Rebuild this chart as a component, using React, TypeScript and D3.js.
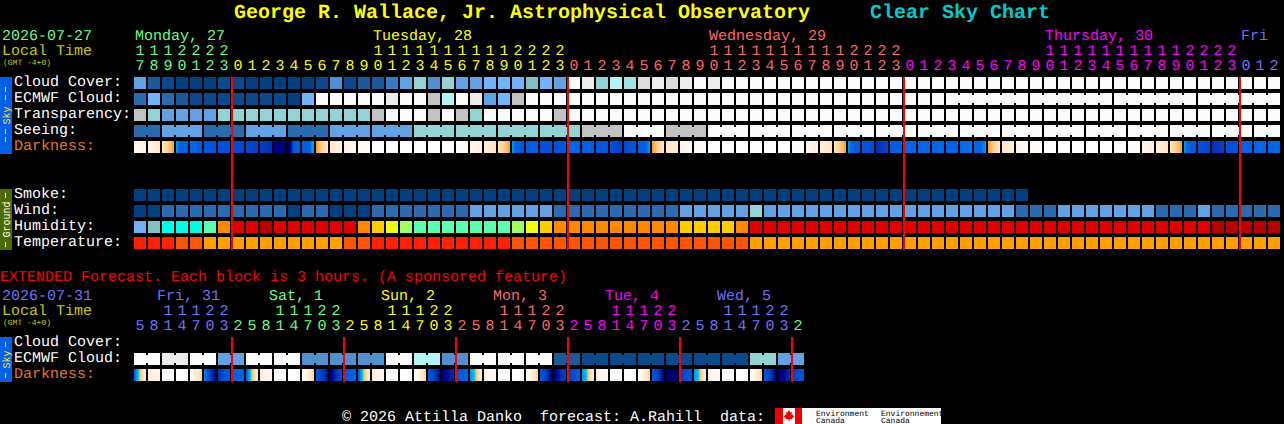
import React from "react";
import * as d3 from "d3";

// ---- Sky condition classes (0 = best/dark blue ... 15 = worst/white)
const cloudCover = [6,2,1,0,0,0,1,1,0,0,0,0,0,1,5,1,2,2,4,6,9,5,9,6,6,7,7,7,8,7,6,15,14,9,11,10,13,14,13,14,15,14,15,15,15,15,15,15,15,15,15,15,15,15,15,15,15,15,15,15,15,15,15,15,15,15,15,15,15,15,15,15,15,15,15,15,15,15,15,15,15,15];
const ecmwfCloud = [3,7,3,2,1,1,1,1,1,1,1,0,7,15,15,15,15,15,14,15,15,12,11,15,14,6,7,12,15,15,15,15,15,15,15,15,15,15,15,15,15,15,15,15,15,15,15,15,15,15,15,15,15,15,15,15,15,15,15,15,15,15,15,15,15,15,15,15,15,15,15,15,15,15,15,15,15,15,15,15,15,15];
const transparency = [12,9,6,6,6,6,9,9,9,9,9,9,9,9,9,9,9,12,15,15,15,12,15,12,9,15,15,15,15,15,12,15,15,15,15,15,15,15,15,15,15,15,15,15,15,15,15,15,15,15,15,15,15,15,15,15,15,15,15,15,15,15,15,15,15,15,15,15,15,15,15,15,15,15,15,15,15,15,15,15,15,15];
const seeing = [3,3,6,6,6,3,3,3,6,6,6,3,3,3,6,6,6,6,6,6,9,9,9,9,9,9,9,9,9,9,9,9,12,12,12,15,15,15,12,12,12,15,15,15,15,15,15,15,15,15,15,15,15,15,15,15,15,15,15,15,15,15,15,15,15,15,15,15,15,15,15,15,15,15,15,15,15,15,15,15,15,15];
const smoke = [0,0,0,0,0,0,0,0,0,0,0,0,0,0,0,0,0,0,0,0,0,0,0,0,0,0,0,0,0,0,0,0,0,0,0,0,0,0,0,0,0,0,0,0,0,0,0,0,0,0,0,0,0,0,0,0,0,0,0,0,0,0,0,0];
const wind = [0,0,3,3,3,3,3,3,3,3,3,0,3,3,0,0,0,3,3,3,3,3,3,3,6,6,6,6,6,6,3,3,3,3,3,3,3,3,3,6,6,6,6,6,9,6,6,6,6,6,6,6,6,6,6,6,6,6,6,6,6,6,6,3,3,3,6,6,6,6,6,6,6,3,3,3,6,3,3,3,3,3];
const humidity = [0,1,2,2,2,3,7,8,8,9,8,8,8,8,8,8,7,6,5,4,3,3,3,3,3,3,3,4,5,6,7,7,7,7,7,7,7,7,7,6,6,6,6,7,8,8,8,8,8,8,8,8,8,8,8,8,8,8,8,8,8,8,8,8,8,8,8,8,8,8,8,8,8,8,8,8,8,9,9,9,9,9];
const temperature = [0,0,0,1,1,2,2,2,2,2,2,2,2,2,2,1,1,0,0,0,0,0,0,0,0,0,0,1,1,1,1,1,1,1,1,1,1,1,1,1,1,1,1,1,2,2,2,2,2,2,2,2,2,2,2,2,2,2,2,2,2,2,2,2,2,2,2,2,2,2,2,2,2,2,2,2,2,2,2,2,2,2];
const extEcmwf = [15,15,14,14,15,15,6,6,15,15,15,15,5,5,5,5,5,5,15,15,11,11,5,5,15,15,15,15,15,15,2,2,1,1,1,1,1,1,1,1,1,1,1,1,9,9,6,6];

// ---- Darkness: value profile across each block (low = sunlight, high = dark sky)
const darknessMain: number[][] = [
  [-4.5,-4],[-4,-3],[-3,-2.5,-2],[-1.7,-1,0,0,0,0],[-0.5,0,0.5],[0.5,1],[1,1],[1,1.5],[1.5,2],[2,3],[4,5],[5,4,0.5,0,0],[0,0,0,0,-1.5,-1.7],
  [-2,-2.5,-3],[-3,-4],[-4,-4.5],[-4.5,-5],[-5],[-5],[-5],[-5],[-5],[-5],
  [-4.8,-4.5],[-4.2,-3.8],[-3.5,-2.9],[-2.9,-2.5,-2],[-1.7,-1,0.3,0.3,0.3,0.3],[0.3,0],[1,1],[1,0.5],[-0.5,-0.5],[0,0],[0.5,0.5],[0.8,2],[1.5,0.5],[0,0,0,0,-1.2,-1.7],
  [-2,-2.5,-3],[-3,-3.5],[-4,-4.3],[-4.5,-4.8],[-5],[-5],[-5],[-5],[-5],[-5],
  [-4.8,-4.5],[-4.2,-3.8],[-3.5,-2.9],[-2.9,-2.5,-2],[-1.7,-1,0.2,0.2,0.2,0.2],[0.5,1.2],[3,1.5],[0,0],[-0.5,-0.5],[-0.5],[-0.5],[-0.2],[-0.5,-1.2],[-0.5,-0.5,-0.5,-0.8,-1.2,-1.7],
  [-2,-2.5,-3],[-3,-3.6],[-4,-4.3],[-4.5,-4.8],[-5],[-5],[-5],[-5],[-5],[-5],
  [-4.8,-4.5],[-4.2,-3.8],[-3.5,-2.9],[-2.9,-2.5,-2],[-1.7,-1,0.3,0.3,0.3,0.3],[0.8,1.5],[3,1.8],[1,0.8],[-0.3],[-0.4],[-0.4],
];
const darknessExt: number[][] = [
  [0,-1.5,-2,-2.5,-3,-3.5],[-3.5,-4],[-5],[-5],[-4.5,-3.5,-2.5],[-1.5,0.5,3,4],[3,1,0.5],[0,-0.5],
  [0,-1.5,-2,-2.5,-3,-3.5],[-3.5,-4.5],[-5],[-5],[-4.5,-3.5,-2.5],[0.5,2,4],[4.5,3,1],[0.5,-0.3],
  [0,-1.5,-2,-2.5,-3,-3.5],[-3.5,-4.5],[-5],[-5],[-4.5,-3.5,-2.5],[0.5,2,4],[4.5,3],[1,-0.5],
  [-1.5,-1.7,-2,-2.5,-3,-3.5],[-4,-4.5],[-5],[-5],[-4.5,-3.5,-2.4],[0.5,2,4.5],[4.5,2],[2,0],
  [-1.5,-1.7,-2,-2.5,-3,-3.5],[-4,-4.5],[-5],[-5],[-4.5,-3.5,-2.4],[0.5,2,4.5],[5,4.5],[2,0.5],
  [-1.5,-1.7,-2,-2.5,-3,-3.5],[-4,-4.5],[-5],[-5],[-4.5,-3.5,-2.4],[0.5,2,4.5],[5,3],[2,0.5],
];

// ---- Merged-block runs (block counts of joined forecasts)
const seeingRuns = [2,3,3,3,3,3,3,3,3,3,3,3,3,3,3,3,3,3,3,3,3,3,3,3,3,3,3,2];
const ecmwfRuns = [1,1,1,1,1,1,1,1,1,1,1,1,1,1,1,1,1,1,1,1,1,1,1,1,1,1,1,1,1,1,1,1,1,1,1,1,1,1,1,1,1,1,1,1,1,1,1,1,1,1,1,1,1,1,1,1,1,1,6,6,6,6];
const extRuns = [2,2,2,2,2,2,2,2,2,2,2,2,2,2,2,2,2,2,2,2,2,2,2,2];

// ---- Time axes
const hoursMain = [17,18,19,20,21,22,23,0,1,2,3,4,5,6,7,8,9,10,11,12,13,14,15,16,17,18,19,20,21,22,23,0,1,2,3,4,5,6,7,8,9,10,11,12,13,14,15,16,17,18,19,20,21,22,23,0,1,2,3,4,5,6,7,8,9,10,11,12,13,14,15,16,17,18,19,20,21,22,23,0,1,2];
const dayOfMain = [0,0,0,0,0,0,0,1,1,1,1,1,1,1,1,1,1,1,1,1,1,1,1,1,1,1,1,1,1,1,1,2,2,2,2,2,2,2,2,2,2,2,2,2,2,2,2,2,2,2,2,2,2,2,2,3,3,3,3,3,3,3,3,3,3,3,3,3,3,3,3,3,3,3,3,3,3,3,3,4,4,4];
const daysMain = ["Monday, 27","Tuesday, 28","Wednesday, 29","Thursday, 30","Fri"];
const dayLabelColsMain = [0,17,41,65,79];
const hoursExt = [5,8,11,14,17,20,23,2,5,8,11,14,17,20,23,2,5,8,11,14,17,20,23,2,5,8,11,14,17,20,23,2,5,8,11,14,17,20,23,2,5,8,11,14,17,20,23,2];
const dayOfExt = [4,4,4,4,4,4,4,0,0,0,0,0,0,0,0,1,1,1,1,1,1,1,1,2,2,2,2,2,2,2,2,3,3,3,3,3,3,3,3,4,4,4,4,4,4,4,4,0];
const daysExt = ["Fri, 31","Sat, 1","Sun, 2","Mon, 3","Tue, 4","Wed, 5"];
const dayLabelColsExt = [1.65,9.65,17.65,25.65,33.65,41.65];
const dayColorOfExt = [4,0,1,2,3,4];
const midnightColsMain = [7,31,55,79];
const midnightColsExt = [7,15,23,31,39,47];
const rowLabelsSky = ["Cloud Cover:","ECMWF Cloud:","Transparency:","Seeing:","Darkness:"];
const rowLabelsGround = ["Smoke:","Wind:","Humidity:","Temperature:"];
const rowLabelsExt = ["Cloud Cover:","ECMWF Cloud:","Darkness:"];

const skyPalette = ["#003f80","#0a4a8c","#1a5a9a","#2a6aae","#3a7ac0","#5090d0","#60a2e4","#70b4fc","#80c0c0","#92d4d4","#a4e2e2","#b2f4f4","#c2c2c2","#dcdcdc","#ececec","#fbfbfb"];
const humidityPalette = ["#70b0f0","#84c0c0","#00ffe8","#5cffb0","#a0ff60","#eeff10","#ffcc00","#ff8800","#e00000","#b80000"];
const temperaturePalette = ["#ff2000","#ff5500","#ffa000"];
const dayPalette = ["#66ff88","#ffff00","#ff6868","#ff00ff","#7070ff"];

const sky = d3.scaleOrdinal<number, string>().domain(d3.range(16)).range(skyPalette);
const hum = d3.scaleOrdinal<number, string>().domain(d3.range(10)).range(humidityPalette);
const tmp = d3.scaleOrdinal<number, string>().domain(d3.range(3)).range(temperaturePalette);
const darkColor = d3.scaleLinear<string>()
  .domain([-5,-4,-3,-2.5,-2,-1.99,-1.5,-1,0,1,2,3,4,5])
  .range(["#ffffff","#fff4e8","#ffe6c6","#ffd090","#f8a020","#00d0e0","#0090f0","#0070ec","#0060e0","#0050d8","#0040c0","#0030b0","#000090","#000060"])
  .clamp(true);

const x = d3.scaleLinear().domain([0, 82]).range([134, 1282]);
const CELL = 12;
const ROW = 16;
const FONT = "'Liberation Mono', monospace";

function Row({ values, color, top, runs }: { values: number[]; color: (v: number) => string; top: number; runs?: number[] }) {
  const joins: number[] = [];
  if (runs) {
    let at = 0;
    runs.forEach((n) => {
      d3.range(n - 1).forEach((k) => joins.push(at + k));
      at += n;
    });
  }
  return (
    <g shapeRendering="crispEdges">
      {values.map((v, i) => (
        <rect key={i} x={x(i)} y={top} width={CELL} height={CELL} fill={color(v)} />
      ))}
      {joins.filter((i) => i < values.length).map((i) => (
        <rect key={i} x={x(i) + CELL} y={top + 2} width={2} height={CELL - 4} fill={color(values[i])} />
      ))}
    </g>
  );
}

function DarkRow({ profiles, top }: { profiles: number[][]; top: number }) {
  return (
    <g shapeRendering="crispEdges">
      {profiles.map((p, i) => {
        const s = d3.scaleLinear<number>()
          .domain(p.length > 1 ? p.map((_, k) => (k / (p.length - 1)) * CELL) : [0, CELL])
          .range(p.length > 1 ? p : [p[0], p[0]]);
        return d3.range(CELL).map((c) => (
          <rect key={`${i}-${c}`} x={x(i) + c} y={top} width={1} height={CELL} fill={darkColor(s(c + 0.5))} />
        ));
      })}
    </g>
  );
}

function Txt({ x: tx, y, fill = "#fff", size = 15, anchor, weight, children }: any) {
  return (
    <text x={tx} y={y} fill={fill} fontSize={size} fontFamily={FONT} textAnchor={anchor} fontWeight={weight} textRendering="geometricPrecision" xmlSpace="preserve" style={{ whiteSpace: "pre" }}>
      {children}
    </text>
  );
}

function Hours({ hours, dayOf, tensY, unitsY }: { hours: number[]; dayOf: number[]; tensY: number; unitsY: number }) {
  return (
    <g>
      {hours.map((h, i) => (
        <React.Fragment key={i}>
          {h >= 10 && <Txt x={x(i) + CELL / 2} y={tensY} fill={dayPalette[dayOf[i]]} anchor="middle">{String(Math.floor(h / 10))}</Txt>}
          <Txt x={x(i) + CELL / 2} y={unitsY} fill={dayPalette[dayOf[i]]} anchor="middle">{String(h % 10)}</Txt>
        </React.Fragment>
      ))}
    </g>
  );
}

function SideBar({ top, height, fill, textFill, label, dashLen }: any) {
  const cy = top + height / 2;
  const half = label.length * 3 + 4;
  return (
    <g>
      <rect x={0} y={top} width={12} height={height} fill={fill} shapeRendering="crispEdges" />
      <text transform={`translate(9.5,${cy}) rotate(-90)`} fill={textFill} fontSize={10} fontFamily={FONT} textAnchor="middle">{label}</text>
      <g stroke={textFill} strokeWidth={1} strokeDasharray="5 3" shapeRendering="crispEdges">
        <line x1={5.5} x2={5.5} y1={cy - half - dashLen} y2={cy - half} />
        <line x1={5.5} x2={5.5} y1={cy + half} y2={cy + half + dashLen} />
      </g>
    </g>
  );
}

function RowLabels({ labels, top }: { labels: string[]; top: number }) {
  return (
    <g>
      {labels.map((l, i) => (
        <Txt key={l} x={14} y={top + ROW * i + 9} fill={l === "Darkness:" ? "#e07830" : "#fff"}>{l}</Txt>
      ))}
    </g>
  );
}

export default function App() {
  const skyTop = 77, groundTop = 189, extTop = 337;
  return (
    <div style={{ position: "fixed", left: 0, top: 0, width: 1284, height: 424, background: "#000", overflow: "hidden" }}>
      <svg width={1284} height={424} style={{ display: "block" }}>
        <rect width={1284} height={424} fill="#000" />
        <Txt x={234} y={18} fill="#ffff00" size={20} weight="bold">George R. Wallace, Jr. Astrophysical Observatory</Txt>
        <Txt x={870} y={18} fill="#00cccc" size={20} weight="bold">Clear Sky Chart</Txt>

        <Txt x={2} y={39.5} fill={dayPalette[0]}>2026-07-27</Txt>
        <Txt x={2} y={54.5} fill="#c8c800">Local Time</Txt>
        <Txt x={3} y={65} fill="#c8c800" size={8}>(GMT -4+0)</Txt>
        {daysMain.map((d, i) => (
          <Txt key={d} x={x(dayLabelColsMain[i]) + 1} y={39.5} fill={dayPalette[i]}>{d}</Txt>
        ))}
        <Hours hours={hoursMain} dayOf={dayOfMain} tensY={55} unitsY={70} />

        <SideBar top={77} height={77} fill="#0060e8" textFill="#ffe040" label="Sky" dashLen={16} />
        <RowLabels labels={rowLabelsSky} top={skyTop} />
        <Row values={cloudCover} color={sky} top={skyTop} />
        <Row values={ecmwfCloud} color={sky} top={skyTop + ROW} runs={ecmwfRuns} />
        <Row values={transparency} color={sky} top={skyTop + ROW * 2} />
        <Row values={seeing} color={sky} top={skyTop + ROW * 3} runs={seeingRuns} />
        <DarkRow profiles={darknessMain} top={skyTop + ROW * 4} />

        <SideBar top={189} height={61} fill="#4c6a00" textFill="#fff" label="Ground" dashLen={5} />
        <RowLabels labels={rowLabelsGround} top={groundTop} />
        <Row values={smoke} color={sky} top={groundTop} />
        <Row values={wind} color={sky} top={groundTop + ROW} />
        <Row values={humidity} color={hum} top={groundTop + ROW * 2} />
        <Row values={temperature} color={tmp} top={groundTop + ROW * 3} />

        {midnightColsMain.map((c) => (
          <rect key={c} x={x(c) - 1} y={77} width={2} height={173} fill="#ff0000" shapeRendering="crispEdges" />
        ))}

        <Txt x={0} y={281} fill="#ff0000">EXTENDED Forecast. Each block is 3 hours. (A sponsored feature)</Txt>
        <Txt x={2} y={300} fill={dayPalette[4]}>2026-07-31</Txt>
        <Txt x={2} y={315} fill="#c8c800">Local Time</Txt>
        <Txt x={3} y={325} fill="#c8c800" size={8}>(GMT -4+0)</Txt>
        {daysExt.map((d, i) => (
          <Txt key={d} x={x(dayLabelColsExt[i])} y={300} fill={dayPalette[dayColorOfExt[i]]}>{d}</Txt>
        ))}
        <Hours hours={hoursExt} dayOf={dayOfExt} tensY={315} unitsY={330} />

        <SideBar top={337} height={45} fill="#0060e8" textFill="#ffe040" label="Sky" dashLen={5} />
        <RowLabels labels={rowLabelsExt} top={extTop} />
        <Row values={extEcmwf} color={sky} top={extTop + ROW} runs={extRuns} />
        <DarkRow profiles={darknessExt} top={extTop + ROW * 2} />
        {midnightColsExt.map((c) => (
          <rect key={c} x={x(c) - 1} y={337} width={2} height={45} fill="#ff0000" shapeRendering="crispEdges" />
        ))}

        <Txt x={342} y={420.5}>© 2026 Attilla Danko  forecast: A.Rahill  data:</Txt>
        <g shapeRendering="crispEdges">
          <rect x={775} y={408} width={166} height={16} fill="#fff" />
          <rect x={775} y={408} width={8} height={16} fill="#f00000" />
          <rect x={795} y={408} width={7} height={16} fill="#f00000" />
        </g>
        <path d="M789 410 l1.5 2.5 1.5 -.5 -.5 3 1.5 -.5 .5 1.5 1 .5 -2.5 2 .3 1 -2.8 -.4 0 2 -1 0 0 -2 -2.8 .4 .3 -1 -2.5 -2 1 -.5 .5 -1.5 1.5 .5 -.5 -3 1.5 .5z" fill="#f00000" />
        <Txt x={816} y={416} fill="#000" size={8}>Environment</Txt>
        <Txt x={816} y={422.5} fill="#000" size={8}>Canada</Txt>
        <Txt x={881} y={416} fill="#000" size={8}>Environnement</Txt>
        <Txt x={881} y={422.5} fill="#000" size={8}>Canada</Txt>
      </svg>
    </div>
  );
}
